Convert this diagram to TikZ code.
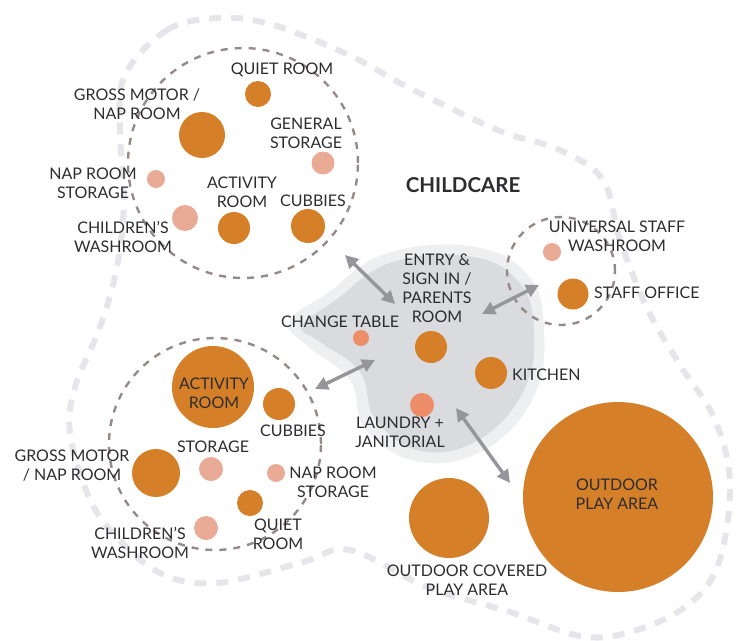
\documentclass[tikz,border=0pt]{standalone}
\usepackage{fontspec}
\setmainfont{Lato}
\usepackage{xcolor}
\usepackage{tikz}
\usetikzlibrary{arrows.meta}

\definecolor{roomorange}{RGB}{213,128,40}
\definecolor{roompink}{RGB}{233,170,150}
\definecolor{roomsalmon}{RGB}{236,140,104}
\definecolor{zonegray}{RGB}{150,138,136}
\definecolor{haze}{RGB}{230,230,234}
\definecolor{hub}{RGB}{218,219,223}
\definecolor{ink}{RGB}{45,45,48}
\definecolor{linkgray}{RGB}{150,150,154}

\begin{document}
\begin{tikzpicture}[
  x=1pt, y=-1pt,
  room/.style={circle, fill=#1, inner sep=0pt},
  zone/.style={circle, draw=zonegray, line width=2.4pt,
               dash pattern=on 7pt off 7pt, inner sep=0pt},
  lbl/.style={font=\fontsize{16}{19}\selectfont, text=ink, align=center, inner sep=0pt},
  link/.style={{Triangle[length=13pt,width=13pt]}-{Triangle[length=13pt,width=13pt]},
               line width=3.4pt, linkgray}
]
\useasboundingbox (0,0) rectangle (738,640);

% Outer boundary of the whole programme
\draw[haze, line width=6pt, dash pattern=on 12pt off 10pt]
  plot[smooth cycle, tension=0.6] coordinates {
    (125,75) (167,30) (217,18) (262,22) (307,37) (355,58) (400,83) (450,108)
    (505,133) (560,150) (603,180) (620,240) (648,310) (680,365) (715,420)
    (730,485) (718,565) (685,607) (630,632) (580,636) (510,612) (427,587)
    (350,550) (300,563) (217,583) (160,573) (113,533) (88,495) (70,433)
    (75,387) (100,327) (117,267) (124,200) (120,130)};

% Shared hub behind the entry, soft edge in two passes
\fill[hub!45] plot[smooth cycle, tension=0.7] coordinates {
  (385,254) (470,246) (528,275) (544,330) (534,396) (486,449) (420,462)
  (366,430) (350,380) (310,348) (289,322) (329,292)};
\fill[hub] plot[smooth cycle, tension=0.7] coordinates {
  (390,263) (468,256) (518,281) (534,330) (524,390) (480,439) (422,451)
  (376,420) (360,372) (320,342) (302,326) (336,300)};

% Zones
\node[zone, minimum size=230pt] (zoneA) at (243,163) {};
\node[zone, minimum size=212pt] (zoneB) at (215,444) {};
\node[zone, minimum size=108pt] (zoneS) at (561,271) {};

% Rooms, upper group
\node[room=roomorange, minimum size=26pt] (quietA)  at (258,94)  {};
\node[room=roomorange, minimum size=46pt] (grossA)  at (202,135) {};
\node[room=roompink,   minimum size=23pt] (genstor) at (323,163) {};
\node[room=roompink,   minimum size=18pt] (napstA)  at (156,179) {};
\node[room=roompink,   minimum size=26pt] (washA)   at (185,218) {};
\node[room=roomorange, minimum size=32pt] (actA)    at (234,228) {};
\node[room=roomorange, minimum size=34pt] (cubA)    at (308,226) {};

% Rooms, staff group
\node[room=roompink,   minimum size=18pt] (staffwc) at (552,252) {};
\node[room=roomorange, minimum size=31pt] (office)  at (573,294) {};

% Rooms, hub and outdoors
\node[room=roomsalmon, minimum size=16pt] (change)  at (361,338) {};
\node[room=roomorange, minimum size=32pt] (entry)   at (431,347) {};
\node[room=roomorange, minimum size=32pt] (kitchen) at (491,373) {};
\node[room=roomsalmon, minimum size=24pt] (laundry) at (422,405) {};
\node[room=roomorange, minimum size=190pt] (play)   at (618,497) {};
\node[room=roomorange, minimum size=80pt] (covered) at (449,518) {};

% Rooms, lower group
\node[room=roomorange, minimum size=82pt] (actB)    at (213,387) {};
\node[room=roomorange, minimum size=32pt] (cubB)    at (279,404) {};
\node[room=roompink,   minimum size=24pt] (storB)   at (211,469) {};
\node[room=roomorange, minimum size=48pt] (grossB)  at (156,473) {};
\node[room=roompink,   minimum size=18pt] (napstB)  at (276,473) {};
\node[room=roomorange, minimum size=26pt] (quietB)  at (250,503) {};
\node[room=roompink,   minimum size=24pt] (washB)   at (206,528) {};

% Labels
\node[lbl] (quietAlbl)  at (282,70)  {QUIET ROOM};
\node[lbl] (grossAlbl)  at (137,104) {GROSS MOTOR /\\NAP ROOM};
\node[lbl] (genstorlbl) at (306,133) {GENERAL\\STORAGE};
\node[lbl] (napstAlbl)  at (93,183)  {NAP ROOM\\STORAGE};
\node[lbl] (actAlbl)    at (242,192) {ACTIVITY\\ROOM};
\node[lbl] (cubAlbl)    at (313,201) {CUBBIES};
\node[lbl] (washAlbl)   at (123,237) {CHILDREN’S\\WASHROOM};

\node[lbl, font=\fontsize{20.5}{24}\bfseries\selectfont] (title) at (463,185) {CHILDCARE};

\node[lbl] (staffwclbl) at (617,236) {UNIVERSAL STAFF\\WASHROOM};
\node[lbl, anchor=west] (officelbl) at (594,293) {STAFF OFFICE};

\node[lbl] (entrylbl)   at (437,288) {ENTRY \&\\SIGN IN /\\PARENTS\\ROOM};
\node[lbl] (changelbl)  at (340,322) {CHANGE TABLE};
\node[lbl, anchor=west] (kitchenlbl) at (512,375) {KITCHEN};
\node[lbl] (laundrylbl) at (400,432) {LAUNDRY +\\JANITORIAL};
\node[lbl] (playlbl)    at (617,494) {OUTDOOR\\PLAY AREA};
\node[lbl] (coveredlbl) at (467,580) {OUTDOOR COVERED\\PLAY AREA};

\node[lbl] (actBlbl)    at (214,393) {ACTIVITY\\ROOM};
\node[lbl] (cubBlbl)    at (293,431) {CUBBIES};
\node[lbl] (storBlbl)   at (213,447) {STORAGE};
\node[lbl] (grossBlbl)  at (72,466)  {GROSS MOTOR\\/ NAP ROOM};
\node[lbl] (napstBlbl)  at (333,482) {NAP ROOM\\STORAGE};
\node[lbl] (quietBlbl)  at (278,534) {QUIET\\ROOM};
\node[lbl] (washBlbl)   at (140,543) {CHILDREN’S\\WASHROOM};

% Link ends
\coordinate (linkA)  at (345,255);
\coordinate (linkAh) at (395,304);
\coordinate (linkS)  at (482,314);
\coordinate (linkSh) at (539,285);
\coordinate (linkB)  at (315,389);
\coordinate (linkBh) at (375,360);
\coordinate (linkP)  at (456,408);
\coordinate (linkPh) at (510,483);

% Links
\foreach \s/\t in {linkA/linkAh, linkS/linkSh, linkB/linkBh, linkP/linkPh}
  \draw[link] (\s) -- (\t);

\end{tikzpicture}
\end{document}
